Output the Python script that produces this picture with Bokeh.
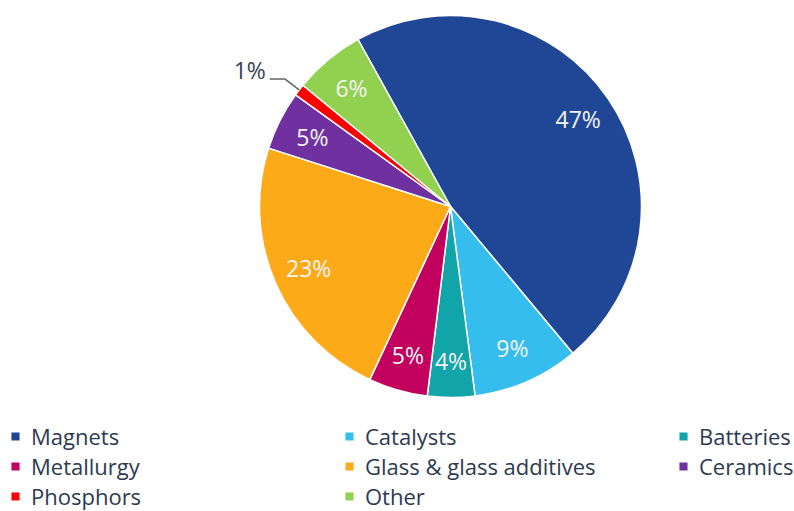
import numpy as np
from bokeh.plotting import figure
from bokeh.models import ColumnDataSource, Legend, LegendItem, Range1d
from bokeh.core.properties import value
from bokeh.embed import file_html
from bokeh.resources import INLINE

categories = ["Magnets", "Catalysts", "Batteries", "Metallurgy",
              "Glass & glass additives", "Ceramics", "Phosphors", "Other"]
shares = [47, 9, 4, 5, 23, 5, 1, 6]
colors = ["#1f4796", "#35bdee", "#11a4a9", "#c2005e",
          "#fdaa19", "#7031a0", "#ff0000", "#92d050"]
labels = [f"{v}%" for v in shares]

W, H = 794, 511
CX, CY, R = 450, 511 - 206, 191
START = -29  # degrees clockwise from 12 o'clock where the first slice begins
LABEL_R = 0.81
SMALL = 2    # slices below this share get an outside label

vals = np.array(shares, dtype=float)
cum = np.concatenate([[0.0], np.cumsum(vals / vals.sum())]) * 360.0
a0 = START + cum[:-1]
a1 = START + cum[1:]
start_ang = np.radians(90 - a1)
end_ang = np.radians(90 - a0)
mid = np.radians(90 - (a0 + a1) / 2)

src = ColumnDataSource(dict(cat=categories, val=shares, color=colors,
                            start=start_ang, end=end_ang))

p = figure(width=W, height=H, x_range=Range1d(0, W), y_range=Range1d(0, H),
           output_backend="svg", toolbar_location=None, min_border=0,
           x_axis_type=None, y_axis_type=None)
p.grid.visible = False
p.outline_line_color = None
p.background_fill_color = "white"

wr = p.wedge(x=CX, y=CY, radius=R, start_angle="start", end_angle="end",
             direction="anticlock", fill_color="color", line_color="white",
             line_width=1.5, source=src)

inside = [i for i, v in enumerate(shares) if v >= SMALL]
outside = [i for i, v in enumerate(shares) if v < SMALL]

lab_src = ColumnDataSource(dict(
    x=[CX + LABEL_R * R * np.cos(mid[i]) for i in inside],
    y=[CY + LABEL_R * R * np.sin(mid[i]) for i in inside],
    t=[labels[i] for i in inside]))
p.text(x="x", y="y", text="t", source=lab_src, text_align="center",
       text_baseline="middle", text_color="#f4f4f4",
       text_font=value("Open Sans"), text_font_size="23px")

for i in outside:
    ex, ey = CX + R * np.cos(mid[i]), CY + R * np.sin(mid[i])
    bx, by = CX + 1.095 * R * np.cos(mid[i]), CY + 1.095 * R * np.sin(mid[i])
    side = 1 if np.cos(mid[i]) >= 0 else -1
    hx = bx + side * 15
    p.line(x=[ex, bx, hx], y=[ey, by, by], line_color="#666666", line_width=1.5)
    p.text(x=[hx + side * 4], y=[by + 9], text=[labels[i]],
           text_align="left" if side > 0 else "right",
           text_baseline="middle", text_color="#3a4256",
           text_font=value("Open Sans"), text_font_size="23px")

items = [LegendItem(label=c, renderers=[wr], index=i) for i, c in enumerate(categories)]
legend = Legend(items=items, orientation="horizontal", ncols=3,
                location=(9, 0), padding=0, margin=0, spacing=0,
                glyph_width=12, glyph_height=12, label_standoff=10,
                label_width=312, border_line_color=None,
                background_fill_alpha=0,
                label_text_font="Open Sans", label_text_font_size="22px",
                label_text_color="#2d3a52")
p.add_layout(legend)

open("out.html", "w").write(file_html(p, INLINE))
